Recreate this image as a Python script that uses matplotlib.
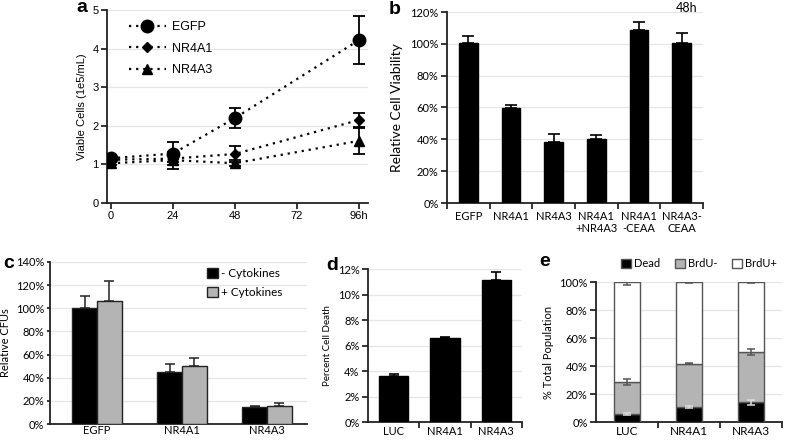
import matplotlib
matplotlib.use("Agg")
import matplotlib.pyplot as plt
from matplotlib.lines import Line2D
from matplotlib.patches import Patch
import numpy as np

# ---------------- data ----------------
# panel a
hours = [0, 24, 48, 96]
hour_labels = ["0", "24", "48", "72", "96h"]
egfp_cells = [1.16, 1.28, 2.2, 4.22]
egfp_err = [0.08, 0.3, 0.25, 0.62]
nr4a1_cells = [1.12, 1.15, 1.27, 2.15]
nr4a1_err = [0.05, 0.1, 0.2, 0.17]
nr4a3_cells = [1.03, 1.11, 1.03, 1.61]
nr4a3_err = [0.05, 0.22, 0.08, 0.34]

# panel b
b_cats = ["EGFP", "NR4A1", "NR4A3", "NR4A1\n+NR4A3", "NR4A1\n-CEAA", "NR4A3-\nCEAA"]
b_vals = [1.005, 0.595, 0.384, 0.405, 1.089, 1.005]
b_err = [0.042, 0.021, 0.048, 0.020, 0.048, 0.063]

# panel c
c_cats = ["EGFP", "NR4A1", "NR4A3"]
c_minus = [1.00, 0.45, 0.147]
c_minus_err = [0.11, 0.07, 0.011]
c_plus = [1.065, 0.504, 0.158]
c_plus_err = [0.17, 0.068, 0.02]

# panel d
d_cats = ["LUC", "NR4A1", "NR4A3"]
d_vals = [0.036, 0.0656, 0.1113]
d_err = [0.002, 0.0011, 0.0067]

# panel e
e_cats = ["LUC", "NR4A1", "NR4A3"]
e_dead = [0.057, 0.105, 0.14]
e_dead_err = [0.005, 0.008, 0.018]
e_brdu_neg = [0.229, 0.312, 0.36]
e_brdu_neg_err = [0.02, 0.005, 0.02]
e_brdu_pos = [0.714, 0.583, 0.50]
e_brdu_pos_err = [0.02, 0.008, 0.008]

# ---------------- figure ----------------
W, H = 785, 440
fig = plt.figure(figsize=(W / 100, H / 100), dpi=100)
fig.patch.set_facecolor("white")

TICKFONT = ["Lato", "DejaVu Sans"]
ARIAL = ["Liberation Sans", "DejaVu Sans"]


def ax_px(l, t, r, b):
    return fig.add_axes([l / W, 1 - b / H, (r - l) / W, (b - t) / H])


def style(ax, font=TICKFONT, size=8):
    for s in ["top", "right"]:
        ax.spines[s].set_visible(False)
    for s in ["left", "bottom"]:
        ax.spines[s].set_linewidth(1.3)
        ax.spines[s].set_color("#222222")
    ax.yaxis.grid(True, color="#e6e6e6", linewidth=0.9)
    ax.set_axisbelow(True)
    ax.tick_params(axis="both", direction="out", length=4, width=1.1, labelsize=size, pad=2)
    for lab in ax.get_xticklabels() + ax.get_yticklabels():
        lab.set_family(font)


def pct(ax, ticks):
    ax.set_yticks(ticks)
    ax.set_yticklabels([f"{int(round(t * 100))}%" for t in ticks])


# ---------- panel a ----------
axa = ax_px(107, 10, 368, 203)
dot = (0, (1, 2.2))
series = [
    (egfp_cells, egfp_err, "o", 9, "EGFP"),
    (nr4a1_cells, nr4a1_err, "D", 5.5, "NR4A1"),
    (nr4a3_cells, nr4a3_err, "^", 7.5, "NR4A3"),
]
handles = []
for vals, err, mk, ms, lab in series:
    axa.errorbar(hours, vals, yerr=err, fmt="none", ecolor="black", elinewidth=1.3,
                 capsize=4, capthick=1.3, zorder=3)
    axa.plot(hours, vals, linestyle=dot, color="black", linewidth=1.6, marker=mk,
             markersize=ms, markerfacecolor="black", markeredgecolor="black", zorder=4)
    handles.append(Line2D([], [], linestyle=dot, color="black", linewidth=1.6, marker=mk,
                          markersize=ms, markerfacecolor="black", label=lab))
axa.set_xlim(-1.5, 99.5)
axa.set_ylim(0, 5)
axa.set_xticks([0, 24, 48, 72, 96])
axa.set_xticklabels(hour_labels)
axa.set_yticks([0, 1, 2, 3, 4, 5])
style(axa, font=ARIAL, size=8)
axa.set_ylabel("Viable Cells (1e5/mL)", fontsize=8, family=ARIAL, labelpad=4)
leg = axa.legend(handles=handles, loc="upper left", bbox_to_anchor=(0.04, 1.0), frameon=False,
                 handlelength=3.0, labelspacing=0.75, handletextpad=0.5,
                 prop={"family": ARIAL, "size": 9})

# ---------- panel b ----------
axb = ax_px(447, 12, 703, 203)
xb = np.arange(len(b_cats))
axb.bar(xb, b_vals, width=0.43, color="black", edgecolor="black", zorder=3)
axb.errorbar(xb, b_vals, yerr=[np.zeros(len(b_err)), b_err], fmt="none", ecolor="black",
             elinewidth=1.2, capsize=4, capthick=1.2, zorder=4)
axb.set_xlim(-0.5, 5.5)
axb.set_ylim(0, 1.2)
pct(axb, [0, 0.2, 0.4, 0.6, 0.8, 1.0, 1.2])
axb.set_xticks(xb)
axb.set_xticklabels(b_cats, linespacing=1.1)
axb.set_xticks(np.arange(-0.5, 6, 1), minor=True)
style(axb)
axb.tick_params(axis="x", which="major", length=0, pad=6)
axb.tick_params(axis="x", which="minor", length=4, width=1.1)
axb.set_ylabel("Relative Cell Viability", fontsize=10, family=TICKFONT, labelpad=5)
fig.text(687 / W, 1 - 8 / H, "48h", fontsize=9, family=TICKFONT, ha="center", va="center")

# ---------- panel c ----------
axc = ax_px(50, 262, 307, 424)
xc = np.arange(len(c_cats))
bw = 0.29
axc.bar(xc - bw / 2, c_minus, width=bw, color="black", edgecolor="#222222", linewidth=1, zorder=3)
axc.bar(xc + bw / 2, c_plus, width=bw, color="#b4b4b4", edgecolor="#222222", linewidth=1, zorder=3)
axc.errorbar(xc - bw / 2, c_minus, yerr=[np.zeros(3), c_minus_err], fmt="none", ecolor="#222222",
             elinewidth=1.1, capsize=3.5, capthick=1.1, zorder=4)
axc.errorbar(xc + bw / 2, c_plus, yerr=[np.zeros(3), c_plus_err], fmt="none", ecolor="#222222",
             elinewidth=1.1, capsize=3.5, capthick=1.1, zorder=4)
axc.set_xlim(-0.553, 2.47)
axc.set_ylim(0, 1.4)
pct(axc, [0, 0.2, 0.4, 0.6, 0.8, 1.0, 1.2, 1.4])
axc.set_xticks(xc)
axc.set_xticklabels(c_cats)
style(axc)
axc.tick_params(axis="x", length=0, pad=1)
axc.tick_params(axis="y", length=2)
axc.set_ylabel("Relative CFUs", fontsize=8, family=TICKFONT, labelpad=4)
axc.legend(handles=[Patch(facecolor="black", edgecolor="#222222", label="- Cytokines"),
                    Patch(facecolor="#b4b4b4", edgecolor="#222222", label="+ Cytokines")],
           loc="upper left", bbox_to_anchor=(0.57, 1.03), frameon=False, handlelength=0.9,
           handleheight=0.9, handletextpad=0.3, labelspacing=0.7, prop={"family": TICKFONT, "size": 8.5})

# ---------- panel d ----------
axd = ax_px(368, 269, 522, 422)
xd = np.arange(len(d_cats))
axd.bar(xd, d_vals, width=0.57, color="black", edgecolor="black", zorder=3)
axd.errorbar(xd, d_vals, yerr=[np.zeros(3), d_err], fmt="none", ecolor="black",
             elinewidth=1.2, capsize=3.5, capthick=1.2, zorder=4)
axd.set_xlim(-0.5, 2.5)
axd.set_ylim(0, 0.12)
pct(axd, [0, 0.02, 0.04, 0.06, 0.08, 0.10, 0.12])
axd.set_xticks(xd)
axd.set_xticklabels(d_cats)
axd.set_xticks([0.5, 1.5, 2.5], minor=True)
style(axd)
axd.tick_params(axis="x", which="major", length=0, pad=3)
axd.tick_params(axis="x", which="minor", length=4, width=1.1)
axd.set_ylabel("Percent Cell Death", fontsize=7, family=TICKFONT, labelpad=4)

# ---------- panel e ----------
axe = ax_px(596, 282, 782, 422)
xe = np.arange(len(e_cats))
ew = 0.42
b1 = np.array(e_dead)
b2 = b1 + np.array(e_brdu_neg)
b3 = b2 + np.array(e_brdu_pos)
axe.bar(xe, e_dead, width=ew, color="black", edgecolor="#555555", linewidth=1, zorder=3, label="Dead")
axe.bar(xe, e_brdu_neg, bottom=b1, width=ew, color="#b4b4b4", edgecolor="#555555", linewidth=1,
        zorder=3, label="BrdU-")
axe.bar(xe, e_brdu_pos, bottom=b2, width=ew, color="white", edgecolor="#555555", linewidth=1,
        zorder=3, label="BrdU+")
axe.errorbar(xe, b1, yerr=e_dead_err, fmt="none", ecolor="#dddddd", elinewidth=1.1, capsize=3,
             capthick=1.1, zorder=4)
axe.errorbar(xe, b2, yerr=e_brdu_neg_err, fmt="none", ecolor="#555555", elinewidth=1.1, capsize=3,
             capthick=1.1, zorder=4)
axe.errorbar(xe, b3, yerr=e_brdu_pos_err, fmt="none", ecolor="#555555", elinewidth=1.1, capsize=3,
             capthick=1.1, zorder=4)
axe.set_xlim(-0.5, 2.5)
axe.set_ylim(0, 1.0)
pct(axe, [0, 0.2, 0.4, 0.6, 0.8, 1.0])
axe.set_xticks(xe)
axe.set_xticklabels(e_cats)
axe.set_xticks([0.5, 1.5, 2.5], minor=True)
style(axe)
axe.tick_params(axis="x", which="major", length=0, pad=3, labelsize=8.5)
axe.tick_params(axis="x", which="minor", length=4, width=1.1)
axe.set_ylabel("% Total Population", fontsize=8, family=TICKFONT, labelpad=4)
axe.legend(loc="lower left", bbox_to_anchor=(0.08, 1.02), ncol=3, frameon=False, handlelength=0.9,
           handleheight=0.9, handletextpad=0.3, columnspacing=1.3, prop={"family": TICKFONT, "size": 8})

# ---------- panel letters ----------
for lx, ly, s in [(82, 8, "a"), (395, 9, "b"), (9, 263, "c"), (332, 265, "d"), (545, 261, "e")]:
    fig.text(lx / W, 1 - ly / H, s, fontsize=14, fontweight="bold", family=ARIAL, ha="center", va="center")

fig.savefig("out.png", dpi=100, facecolor="white")
